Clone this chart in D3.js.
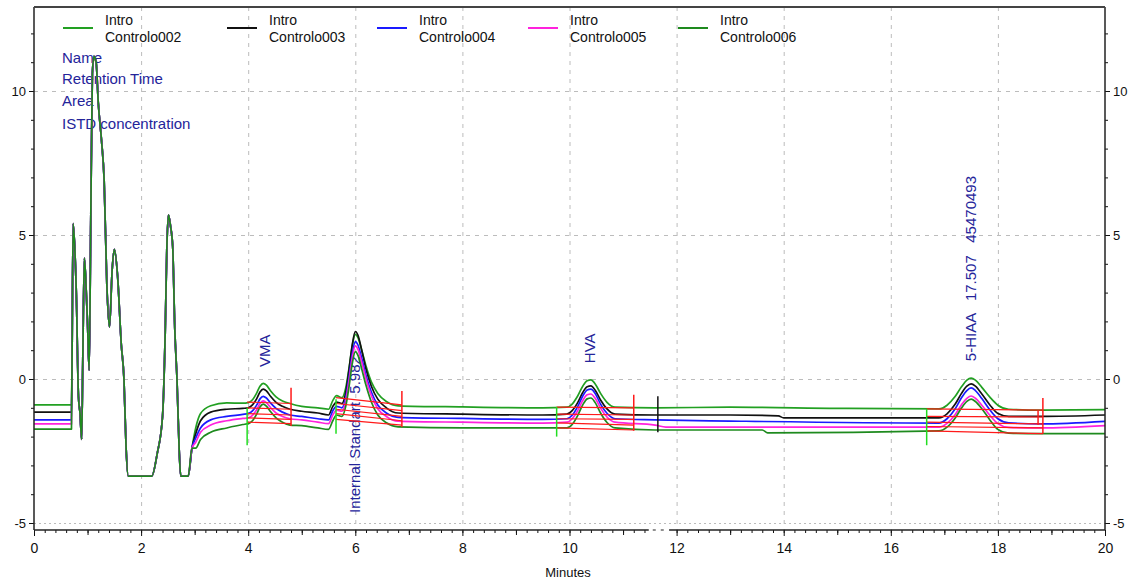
<!DOCTYPE html>
<html><head><meta charset="utf-8">
<script src="https://cdn.jsdelivr.net/npm/d3@7"></script>
<style>
body{margin:0;background:#fff}
text{font-family:"Liberation Sans",Arial,sans-serif}
</style>
</head><body>
<svg id="c" width="1134" height="580"></svg>
<script>
// ---------------- DATA ----------------
const legendTop = "Intro";
const seriesNames = ["Controlo002","Controlo003","Controlo004","Controlo005","Controlo006"];
const seriesColors = ["#22a022","#111111","#1a1aff","#ff22dd","#1e8a1e"];

const xTicks = [0,2,4,6,8,10,12,14,16,18,20];
const yTicks = [-5,0,5,10];

const infoLines = ["Name","Retention Time","Area","ISTD concentration"];

// shared early section (all five traces overlap here)
const earlyCommon = [[0.71,0.5],[0.73,5.4],[0.76,4.6],[0.79,3.0],[0.83,-0.6],[0.86,-1.2],[0.89,-2.1],
 [0.91,0.5],[0.94,4.2],[0.97,3.3],[1.00,1.9],[1.03,0.3],[1.06,5.5],[1.09,10.6],[1.12,11.2],[1.16,11.0],
 [1.20,9.6],[1.26,8.3],[1.31,6.9],[1.36,3.3],[1.41,1.8],[1.46,3.8],[1.50,4.5],[1.56,3.6],[1.63,1.2],
 [1.68,0.0],[1.72,-2.4],[1.76,-3.37],[2.20,-3.37],[2.30,-2.6],[2.40,-1.3],[2.45,1.6],[2.48,4.5],[2.51,5.7],
 [2.55,5.3],[2.59,4.6],[2.63,1.7],[2.67,0.0],[2.71,-2.4],[2.74,-3.37],[2.88,-3.37],[2.95,-2.4]];

const lead002 = [[0,-0.9],[0.70,-0.9]];
const lead003 = [[0,-1.15],[0.70,-1.15]];
const lead004 = [[0,-1.42],[0.70,-1.42]];
const lead005 = [[0,-1.56],[0.70,-1.56]];
const lead006 = [[0,-1.74],[0.70,-1.74]];

const tail002 = [[3.02,-1.7],[3.11,-1.2],[3.3,-0.93],[3.6,-0.83],[3.9,-0.84],
 [4.0,-0.82],[4.08,-0.72],[4.16,-0.48],[4.22,-0.25],[4.28,-0.15],[4.34,-0.21],[4.42,-0.42],[4.52,-0.62],[4.64,-0.76],[4.78,-0.85],
 [5.0,-0.95],[5.3,-1.0],[5.5,-1.05],[5.58,-0.75],[5.65,-0.58],[5.75,-0.65],
 [5.82,-0.32],[5.88,0.34],[5.94,1.11],[6.0,1.55],[6.05,1.44],[6.12,1.0],[6.2,0.45],[6.3,-0.1],[6.42,-0.5],[6.58,-0.78],[6.8,-0.93],
 [8,-0.97],[9.5,-1.0],[9.95,-0.98],
 [10.05,-0.87],[10.15,-0.6],[10.25,-0.24],[10.33,-0.06],[10.4,-0.03],[10.48,-0.17],[10.58,-0.5],[10.7,-0.81],[10.85,-0.98],
 [11.6,-1.0],[13,-0.98],[15,-1.02],[16.9,-1.04],
 [17.05,-0.91],[17.2,-0.61],[17.32,-0.27],[17.42,-0.04],[17.5,0.03],[17.58,-0.04],[17.7,-0.29],[17.85,-0.63],[18.0,-0.91],[18.2,-1.05],
 [18.8,-1.08],[20,-1.06]];
const tail003 = [[3.02,-1.9],[3.11,-1.45],[3.3,-1.15],[3.6,-1.05],[3.9,-1.02],
 [4.0,-1.0],[4.08,-0.9],[4.16,-0.68],[4.22,-0.45],[4.28,-0.35],[4.34,-0.41],[4.42,-0.61],[4.52,-0.81],[4.64,-0.95],[4.78,-1.05],
 [5.0,-1.12],[5.3,-1.18],[5.5,-1.25],[5.58,-0.95],[5.65,-0.8],[5.75,-0.85],
 [5.82,-0.48],[5.88,0.28],[5.94,1.15],[6.0,1.65],[6.05,1.52],[6.12,1.0],[6.2,0.35],[6.3,-0.25],[6.42,-0.7],[6.58,-1.0],[6.8,-1.18],
 [8,-1.22],[9.5,-1.25],[9.95,-1.22],
 [10.05,-1.1],[10.15,-0.83],[10.25,-0.46],[10.33,-0.27],[10.4,-0.24],[10.48,-0.39],[10.58,-0.73],[10.7,-1.04],[10.85,-1.22],
 [11.6,-1.25],[13,-1.25],[13.9,-1.28],[14.0,-1.35],[16.9,-1.35],
 [17.05,-1.21],[17.2,-0.88],[17.32,-0.5],[17.42,-0.25],[17.5,-0.17],[17.58,-0.25],[17.7,-0.52],[17.85,-0.9],[18.0,-1.2],[18.2,-1.3],
 [18.8,-1.3],[20,-1.25]];
const tail004 = [[3.02,-2.05],[3.11,-1.7],[3.3,-1.42],[3.6,-1.3],[3.9,-1.23],
 [4.0,-1.2],[4.08,-1.11],[4.16,-0.9],[4.22,-0.69],[4.28,-0.6],[4.34,-0.66],[4.42,-0.84],[4.52,-1.02],[4.64,-1.15],[4.78,-1.25],
 [5.0,-1.3],[5.3,-1.38],[5.5,-1.42],[5.58,-1.1],[5.65,-0.95],[5.75,-1.0],
 [5.82,-0.66],[5.88,0.03],[5.94,0.84],[6.0,1.3],[6.05,1.18],[6.12,0.72],[6.2,0.12],[6.3,-0.45],[6.42,-0.9],[6.58,-1.18],[6.8,-1.33],
 [8,-1.37],[9.5,-1.4],[9.95,-1.38],
 [10.05,-1.26],[10.15,-0.97],[10.25,-0.58],[10.33,-0.38],[10.4,-0.35],[10.48,-0.5],[10.58,-0.87],[10.7,-1.19],[10.85,-1.38],
 [11.6,-1.42],[13,-1.46],[16.9,-1.53],
 [17.05,-1.38],[17.2,-1.04],[17.32,-0.65],[17.42,-0.4],[17.5,-0.31],[17.58,-0.4],[17.7,-0.68],[17.85,-1.07],[18.0,-1.38],[18.2,-1.52],
 [18.8,-1.56],[20,-1.47]];
const tail005 = [[3.02,-2.2],[3.11,-1.85],[3.3,-1.6],[3.6,-1.45],[3.9,-1.37],
 [4.0,-1.35],[4.08,-1.26],[4.16,-1.06],[4.22,-0.85],[4.28,-0.76],[4.34,-0.82],[4.42,-1.0],[4.52,-1.18],[4.64,-1.3],[4.78,-1.38],
 [5.0,-1.42],[5.3,-1.5],[5.5,-1.55],[5.58,-1.25],[5.65,-1.08],[5.75,-1.12],
 [5.82,-0.78],[5.88,-0.1],[5.94,0.7],[6.0,1.15],[6.05,1.03],[6.12,0.58],[6.2,0.0],[6.3,-0.58],[6.42,-1.03],[6.58,-1.3],[6.8,-1.46],
 [8,-1.5],[9.5,-1.53],[9.95,-1.5],
 [10.05,-1.38],[10.15,-1.11],[10.25,-0.74],[10.33,-0.55],[10.4,-0.52],[10.48,-0.67],[10.58,-1.01],[10.7,-1.32],[10.85,-1.5],
 [11.6,-1.6],[11.8,-1.67],[16.9,-1.67],
 [17.05,-1.54],[17.2,-1.24],[17.32,-0.89],[17.42,-0.67],[17.5,-0.59],[17.58,-0.67],[17.7,-0.91],[17.85,-1.26],[18.0,-1.55],[18.2,-1.68],
 [18.8,-1.7],[20,-1.62]];
const tail006 = [[3.02,-2.4],[3.11,-2.1],[3.3,-1.85],[3.6,-1.7],[3.9,-1.58],
 [4.0,-1.55],[4.08,-1.45],[4.16,-1.21],[4.22,-0.97],[4.28,-0.87],[4.34,-0.94],[4.42,-1.14],[4.52,-1.35],[4.64,-1.5],[4.78,-1.6],
 [5.0,-1.62],[5.3,-1.7],[5.5,-1.75],[5.58,-1.45],[5.65,-1.25],[5.75,-1.3],
 [5.82,-0.96],[5.88,-0.3],[5.94,0.5],[6.0,0.95],[6.05,0.82],[6.12,0.35],[6.2,-0.22],[6.3,-0.8],[6.42,-1.25],[6.58,-1.52],[6.8,-1.66],
 [8,-1.7],[9.5,-1.7],[9.95,-1.7],
 [10.05,-1.58],[10.15,-1.28],[10.25,-0.89],[10.33,-0.69],[10.4,-0.66],[10.48,-0.82],[10.58,-1.18],[10.7,-1.51],[10.85,-1.7],
 [11.6,-1.77],[13.6,-1.77],[13.7,-1.87],[16.9,-1.8],
 [17.05,-1.67],[17.2,-1.36],[17.32,-1.01],[17.42,-0.78],[17.5,-0.7],[17.58,-0.78],[17.7,-1.03],[17.85,-1.42],[18.0,-1.75],[18.2,-1.88],
 [18.8,-1.9],[20,-1.9]];

// integration windows (start, end in minutes)
const peakWindows = [[3.98,4.8],[5.64,6.87],[9.76,11.2],[16.67,18.84]];
// red baseline values [start,end] per peak (rows) per series (cols)
const redBaselines = [
 [[-0.8,-0.85],[-1.0,-1.05],[-1.2,-1.25],[-1.35,-1.4],[-1.5,-1.55]],
 [[-0.65,-0.9],[-0.85,-1.1],[-1.05,-1.3],[-1.2,-1.45],[-1.4,-1.6]],
 [[-0.98,-1.0],[-1.22,-1.25],[-1.38,-1.4],[-1.52,-1.6],[-1.7,-1.77]],
 [[-1.04,-1.08],[-1.3,-1.32],[-1.5,-1.56],[-1.65,-1.7],[-1.8,-1.9]]
];
// start markers (green) and end markers (red): [time, vTop, vBottom]
const startMarks = [[3.98,-1.0,-2.3],[5.64,-0.7,-1.9],[9.76,-0.97,-2.0],[16.67,-1.04,-2.3]];
const endMarks = [[4.8,-0.3,-1.63],[6.87,-0.42,-1.67],[11.2,-0.55,-1.8],[18.84,-0.66,-1.9],[18.75,-1.1,-1.6]];
const breakMark = [11.65,-0.6,-1.85];

const peakLabels = ["VMA","Internal Standart  5.982","HVA","5-HIAA   17.507   45470493"];
const peakLabelAt = [[4.32,0.42],[6.0,-4.65],[10.38,0.55],[17.5,0.62]];

// ---------------- LAYOUT ----------------
const L=34, R=1105, T=7, B=530;
const svg = d3.select("#c");
const x = d3.scaleLinear().domain([0,20]).range([L,R]);
const y = d3.scaleLinear().domain([-5,10]).range([523,91]);
const axisBreak = [11.48,11.86];

svg.append("defs").append("clipPath").attr("id","clip")
  .append("rect").attr("x",L).attr("y",T).attr("width",R-L).attr("height",B-T);

// grid
const grid = svg.append("g").attr("stroke","#bcbcbc").attr("stroke-width",1);
grid.selectAll("line.v").data(xTicks.filter(d=>d>0&&d<20)).join("line")
  .attr("x1",d=>x(d)+0.5).attr("x2",d=>x(d)+0.5).attr("y1",T).attr("y2",B)
  .attr("stroke-dasharray","4,5");
grid.selectAll("line.h").data(yTicks).join("line")
  .attr("x1",L).attr("x2",R).attr("y1",d=>Math.round(y(d))+0.5).attr("y2",d=>Math.round(y(d))+0.5)
  .attr("stroke-dasharray",d=>d===-5?"2,3":"4,5");

// info texts
const blue="#24249a";
svg.append("g").selectAll("text").data(infoLines).join("text")
  .attr("x",62).attr("y",(d,i)=>[63,84,106,129][i])
  .attr("font-size",15).attr("fill",blue).text(d=>d);

// peak labels (under the traces)
svg.append("g").selectAll("text").data(peakLabels).join("text")
  .attr("transform",(d,i)=>`translate(${x(peakLabelAt[i][0])+5},${y(peakLabelAt[i][1])}) rotate(-90)`)
  .attr("font-size",15).attr("fill",blue).style("white-space","pre").text(d=>d);

// traces
const leads=[lead002,lead003,lead004,lead005,lead006];
const tails=[tail002,tail003,tail004,tail005,tail006];
const series = seriesNames.map((n,i)=>leads[i].concat(earlyCommon,tails[i]));
const line = d3.line().x(d=>x(d[0])).y(d=>y(d[1])).curve(d3.curveMonotoneX);
const plot = svg.append("g").attr("clip-path","url(#clip)");
plot.selectAll("path.s").data(series).join("path")
  .attr("d",line).attr("fill","none")
  .attr("stroke",(d,i)=>seriesColors[i]).attr("stroke-width",1.7).attr("stroke-linejoin","round");

// integration baselines
const red="#ff1a1a";
peakWindows.forEach((w,p)=>{
  plot.append("g").selectAll("line").data(redBaselines[p]).join("line")
    .attr("x1",x(w[0])).attr("x2",x(w[1])).attr("y1",d=>y(d[0])).attr("y2",d=>y(d[1]))
    .attr("stroke",red).attr("stroke-width",1.2);
});
plot.selectAll("line.sm").data(startMarks).join("line")
  .attr("x1",d=>x(d[0])).attr("x2",d=>x(d[0])).attr("y1",d=>y(d[1])).attr("y2",d=>y(d[2]))
  .attr("stroke","#22dd22").attr("stroke-width",1.5);
plot.selectAll("line.em").data(endMarks).join("line")
  .attr("x1",d=>x(d[0])).attr("x2",d=>x(d[0])).attr("y1",d=>y(d[1])).attr("y2",d=>y(d[2]))
  .attr("stroke",red).attr("stroke-width",1.5);
plot.append("line").attr("x1",x(breakMark[0])).attr("x2",x(breakMark[0]))
  .attr("y1",y(breakMark[1])).attr("y2",y(breakMark[2])).attr("stroke","#111").attr("stroke-width",1.5);

// axes
function style(g){g.selectAll("text").attr("fill","#111");g.selectAll("line").attr("stroke","#111");}
const yMinor = d3.range(-5,13,1);
svg.append("g").attr("transform",`translate(${L},0)`)
  .call(d3.axisLeft(y).tickValues(yMinor).tickSize(3).tickFormat(""))
  .call(g=>g.select(".domain").remove()).call(style);
svg.append("g").attr("transform",`translate(${L},0)`)
  .call(d3.axisLeft(y).tickValues(yTicks).tickSize(5).tickPadding(3).tickFormat(d=>String(d)))
  .call(g=>g.select(".domain").remove()).call(style)
  .selectAll("text").attr("font-size",13).attr("font-family","Liberation Sans, Arial");
svg.append("g").attr("transform",`translate(${R},0)`)
  .call(d3.axisRight(y).tickValues(yMinor).tickSize(3).tickFormat(""))
  .call(g=>g.select(".domain").remove()).call(style);
svg.append("g").attr("transform",`translate(${R},0)`)
  .call(d3.axisRight(y).tickValues(yTicks).tickSize(5).tickPadding(3).tickFormat(d=>String(d)))
  .call(g=>g.select(".domain").remove()).call(style)
  .selectAll("text").attr("font-size",13).attr("font-family","Liberation Sans, Arial");

const inGap = d=>d>axisBreak[0]&&d<axisBreak[1];
const xMinor = d3.range(0,100.5,1).map(d=>d/5).filter(d=>!inGap(d));
svg.append("g").attr("transform",`translate(0,${B})`)
  .call(d3.axisBottom(x).tickValues(xMinor).tickSize(3).tickFormat(""))
  .call(g=>g.select(".domain").remove()).call(style);
svg.append("g").attr("transform",`translate(0,${B})`)
  .call(d3.axisBottom(x).tickValues(d3.range(1,20,2)).tickSize(5).tickFormat(""))
  .call(g=>g.select(".domain").remove()).call(style);
svg.append("g").attr("transform",`translate(0,${B})`)
  .call(d3.axisBottom(x).tickValues(xTicks).tickSize(6).tickPadding(7).tickFormat(d=>String(d)))
  .call(g=>g.select(".domain").remove()).call(style)
  .selectAll("text").attr("font-size",14).attr("font-family","Liberation Sans, Arial");

// frame
const frame = svg.append("g").attr("stroke","#222").attr("fill","none");
frame.append("line").attr("x1",L).attr("x2",L).attr("y1",T).attr("y2",B).attr("stroke-width",1.5);
frame.append("line").attr("x1",R).attr("x2",R).attr("y1",T).attr("y2",B).attr("stroke-width",1.5);
frame.append("line").attr("x1",L).attr("x2",R).attr("y1",T).attr("y2",T).attr("stroke-width",2).attr("stroke","#444");
frame.append("line").attr("x1",L).attr("x2",x(axisBreak[0])).attr("y1",B).attr("y2",B).attr("stroke-width",1.5);
frame.append("line").attr("x1",x(axisBreak[1])).attr("x2",R).attr("y1",B).attr("y2",B).attr("stroke-width",1.5);
frame.append("line").attr("x1",x(axisBreak[0])+4).attr("x2",x(axisBreak[1])-4).attr("y1",B).attr("y2",B)
  .attr("stroke-width",1.2).attr("stroke-dasharray","3,5");

svg.append("text").attr("x",568).attr("y",577).attr("text-anchor","middle")
  .attr("font-size",13).attr("fill","#111").text("Minutes");

// legend
const legX=[63,227,377,528,678];
const leg = svg.append("g");
seriesNames.forEach((n,i)=>{
  leg.append("line").attr("x1",legX[i]).attr("x2",legX[i]+30).attr("y1",28).attr("y2",28)
    .attr("stroke",seriesColors[i]).attr("stroke-width",2);
  leg.append("text").attr("x",legX[i]+42).attr("y",25).attr("font-size",14).attr("fill","#111").text(legendTop);
  leg.append("text").attr("x",legX[i]+42).attr("y",42).attr("font-size",14).attr("fill","#111").text(n);
});
</script>
</body></html>
